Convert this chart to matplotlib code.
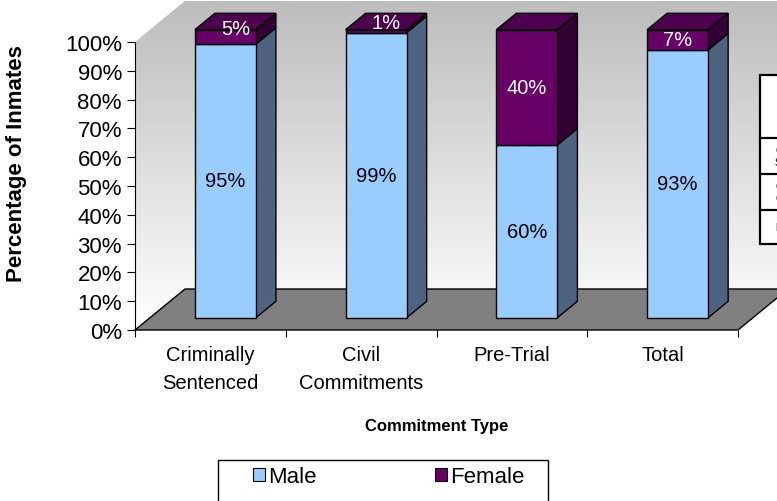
import numpy as np
import matplotlib
matplotlib.use("Agg")
import matplotlib.pyplot as plt
from matplotlib.patches import Polygon, Rectangle
from matplotlib.lines import Line2D

# ---- data -------------------------------------------------------------
categories = ["Criminally\nSentenced", "Civil\nCommitments", "Pre-Trial", "Total"]
male_pct = [95, 99, 60, 93]
female_pct = [5, 1, 40, 7]
y_ticks = [0, 10, 20, 30, 40, 50, 60, 70, 80, 90, 100]
series_names = ["Male", "Female"]
table_rows = ["Criminally\nSentenced", "Civil\nCommitments", "Pre-Trial"]

# ---- style ------------------------------------------------------------
plt.rcParams["font.family"] = ["Liberation Sans", "DejaVu Sans"]

MALE_FRONT, MALE_SIDE, MALE_TOP = "#99CCFF", "#4D6380", "#7AA3CC"
FEM_FRONT, FEM_SIDE, FEM_TOP = "#660066", "#330033", "#4D004D"
EDGE_LW = 1.0

W, H = 777, 502
fig = plt.figure(figsize=(W / 100, H / 100), dpi=100)
fig.patch.set_facecolor("white")

# front plane of the 3-D plot area
ax = fig.add_axes([135 / W, 1 - 331 / H, 603 / W, 288 / H])
ax.patch.set_visible(False)
for name, sp in ax.spines.items():
    sp.set_visible(name == "left")
ax.spines["left"].set_linewidth(0.8)

# oblique projection: depth of the plot box in data units
DX = 50 / 150.75
DY = 41 / 2.88
BAR_W = 0.405
D0, D1 = 0.3, 0.7          # bars occupy this slice of the depth
ox, oy = D0 * DX, D0 * DY
ddx, ddy = (D1 - D0) * DX, (D1 - D0) * DY

# walls with a vertical grey-to-white gradient
n_cat = len(categories)
wall = Polygon([(0, 0), (0, 100), (DX, 100 + DY), (n_cat + DX, 100 + DY),
                (n_cat + DX, DY), (DX, DY)], closed=True, fc="none", ec="none",
               transform=ax.transData)
ax.add_patch(wall)
wall.set_clip_on(False)
g = np.linspace(0.74, 1.0, 256)
grad = np.repeat(np.repeat(g[:, None, None], 2, axis=1), 3, axis=2)
im = ax.imshow(grad, extent=(0, n_cat + DX, 0, 100 + DY), origin="upper",
               aspect="auto", zorder=0, interpolation="bilinear")
im.set_clip_box(fig.bbox)
im.set_clip_path(wall)
ax.set_xlim(0, n_cat)
ax.set_ylim(0, 100)

# floor
floor = Polygon([(0, 0), (n_cat, 0), (n_cat + DX, DY), (DX, DY)], closed=True,
                fc="#808080", ec="black", lw=EDGE_LW, zorder=1, clip_on=False)
ax.add_patch(floor)


def draw_block(xl, y0, y1, front, side, top, with_top):
    xr = xl + BAR_W
    ax.add_patch(Polygon([(xr, y0 + oy), (xr + ddx, y0 + oy + ddy),
                          (xr + ddx, y1 + oy + ddy), (xr, y1 + oy)],
                         closed=True, fc=side, ec="black", lw=EDGE_LW,
                         zorder=2, clip_on=False, joinstyle="miter"))
    ax.add_patch(Rectangle((xl, y0 + oy), BAR_W, y1 - y0, fc=front,
                           ec="black", lw=EDGE_LW, zorder=3, clip_on=False,
                           joinstyle="miter"))
    if with_top:
        ax.add_patch(Polygon([(xl, y1 + oy), (xr, y1 + oy),
                              (xr + ddx, y1 + oy + ddy), (xl + ddx, y1 + oy + ddy)],
                             closed=True, fc=top, ec="black", lw=EDGE_LW,
                             zorder=3, clip_on=False, joinstyle="miter"))


for i, (m, f) in enumerate(zip(male_pct, female_pct)):
    cx = i + 0.5 + ox
    xl = cx - BAR_W / 2
    draw_block(xl, 0, m, MALE_FRONT, MALE_SIDE, MALE_TOP, False)
    draw_block(xl, m, m + f, FEM_FRONT, FEM_SIDE, FEM_TOP, True)

    ax.text(cx, m / 2 + oy, f"{m}%", ha="center", va="center",
            fontsize=14.5, color="black", zorder=5)
    lx, ly = cx, m + f / 2 + oy
    if f < 6:   # thin segment: put the label in the middle of the block
        lx += ddx / 2
        ly += ddy / 2
    ax.text(lx, ly, f"{f}%", ha="center", va="center", fontsize=14.5,
            color="white", zorder=5, clip_on=False)

# axes ticks
ax.set_yticks(y_ticks)
ax.set_yticklabels([f"{v}%" for v in y_ticks])
ax.tick_params(axis="y", direction="out", length=5.8, width=0.8, pad=3.6,
               labelsize=16)
ax.set_xticks(range(n_cat + 1))
ax.set_xticklabels([])
ax.tick_params(axis="x", which="major", direction="out", length=5, width=0.8)
ax.set_xticks([i + 0.5 for i in range(n_cat)], minor=True)
ax.set_xticklabels(categories, minor=True)
ax.tick_params(axis="x", which="minor", length=0, pad=11, labelsize=14.5)
for t in ax.get_xticklabels(minor=True):
    t.set_linespacing(1.6)
    t.set_va("top")

# axis titles
fig.text(436.5 / W, 1 - 427 / H, "Commitment Type", ha="center", va="center",
         fontsize=12, fontweight="bold")
fig.text(17 / W, 1 - 164 / H, "Percentage of Inmates", ha="center",
         va="center", rotation=90, fontsize=16, fontweight="bold")

# legend
handles = [Rectangle((0, 0), 1, 1, fc=MALE_FRONT, ec="black", lw=0.8),
           Rectangle((0, 0), 1, 1, fc=FEM_FRONT, ec="black", lw=0.8)]
fig.legend(handles, series_names, ncol=2, frameon=False, fontsize=16,
           loc="center left", bbox_to_anchor=(253 / W, 1 - 478 / H),
           borderpad=0, borderaxespad=0, handlelength=0.55,
           handleheight=0.55, handletextpad=0.15, columnspacing=5.3)
fig.add_artist(Rectangle((218 / W, 1 - 515 / H), 330 / W, 54 / H,
                         transform=fig.transFigure, fill=False, ec="black",
                         lw=1.0))

# data table running off the right edge
fig.add_artist(Rectangle((760 / W, 1 - 245 / H), 60 / W, 169 / H,
                         transform=fig.transFigure, fc="white", ec="black",
                         lw=1.6, zorder=4))
for yp in (139, 175, 211):
    fig.add_artist(Line2D([760 / W, 1.05], [1 - yp / H] * 2,
                          transform=fig.transFigure, color="black", lw=1.6,
                          zorder=4))
for txt, yp in zip(table_rows, (157, 193, 228)):
    fig.text(775 / W, 1 - yp / H, txt, ha="left", va="center", fontsize=7,
             zorder=5)

fig.savefig("out.png", dpi=100, facecolor="white")
